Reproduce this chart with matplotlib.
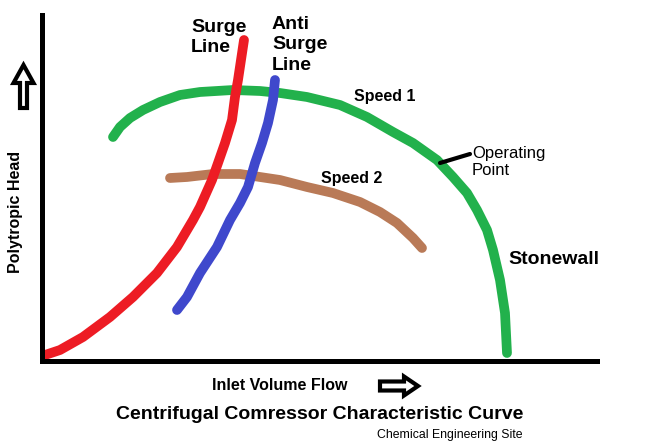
import matplotlib.pyplot as plt
from matplotlib.patches import FancyArrow

plt.rcParams['font.family'] = ['Liberation Sans', 'DejaVu Sans']

# curves, in pixel-like units measured from the axes origin
surge_x = [3, 18, 41, 68, 91, 115, 135, 151, 158, 170, 176, 183, 190, 193, 196, 199, 202]
surge_y = [6, 11, 24, 44, 64, 88, 114, 141, 154, 181, 198, 218, 241, 264, 281, 301, 321]

anti_x = [135, 145, 158, 175, 188, 198, 206, 213, 220, 226, 231, 233]
anti_y = [51, 64, 88, 114, 141, 158, 174, 198, 218, 238, 261, 281]

speed1_x = [71, 78, 88, 101, 118, 138, 158, 191, 218, 238, 265, 298,
            325, 351, 371, 395, 411, 425, 435, 445, 451, 458, 463, 465]
speed1_y = [224, 234, 243, 251, 259, 266, 269, 271, 270, 268, 264, 256,
            244, 229, 218, 201, 184, 168, 151, 131, 111, 81, 48, 8]

speed2_x = [128, 145, 171, 198, 218, 238, 265, 291, 318, 338, 355, 371, 380]
speed2_y = [183, 184, 187, 187, 184, 181, 174, 168, 159, 149, 138, 123, 113]

op_x = [398, 428]
op_y = [198, 207]

RED = '#ed1c24'
BLUE = '#3f48cc'
GREEN = '#22b14c'
BROWN = '#b97a57'

W, H = 665, 448
fig = plt.figure(figsize=(W / 100, H / 100), dpi=100)
ax = fig.add_axes([42 / W, (H - 361) / H, 555 / W, 346 / H])
ax.set_xlim(0, 555)
ax.set_ylim(0, 346)

for s in ['top', 'right']:
    ax.spines[s].set_visible(False)
for s in ['left', 'bottom']:
    ax.spines[s].set_linewidth(3.6)
ax.set_xticks([])
ax.set_yticks([])

kw = dict(lw=7, solid_capstyle='round', solid_joinstyle='round', clip_on=False)
ax.plot(speed2_x, speed2_y, color=BROWN, **kw)
ax.plot(speed1_x, speed1_y, color=GREEN, **kw)
ax.plot(surge_x, surge_y, color=RED, **kw)
ax.plot(anti_x, anti_y, color=BLUE, **kw)
ax.plot(op_x, op_y, color='black', lw=3, solid_capstyle='round')

t = dict(clip_on=False, fontweight='bold')
ax.text(149, 342, 'Surge\nLine', fontsize=14, ha='left', va='top', linespacing=1.25, **t)
ax.text(230, 345, 'Anti\nSurge\nLine', fontsize=14, ha='left', va='top', linespacing=1.25, **t)
ax.text(312, 264, 'Speed 1', fontsize=11.5, ha='left', va='center', **t)
ax.text(279, 182, 'Speed 2', fontsize=11.5, ha='left', va='center', **t)
ax.text(430, 215, 'Operating\nPoint', fontsize=12, ha='left', va='top', linespacing=1.15,
        clip_on=False)
ax.text(466, 101, 'Stonewall', fontsize=14, ha='left', va='center', **t)
ax.text(-26, 149, 'Polytropic Head', fontsize=11.5, rotation=90, ha='center', va='center', **t)
ax.text(170, -24, 'Inlet Volume Flow', fontsize=11.5, ha='left', va='center', **t)
ax.text(278, -53, 'Centrifugal Comressor Characteristic Curve', fontsize=14,
        ha='center', va='center', **t)
ax.text(408, -74, 'Chemical Engineering Site', fontsize=8.8, ha='center', va='center',
        clip_on=False)

up = FancyArrow(-18.5, 253, 0, 43, width=7, head_width=20, head_length=18,
                length_includes_head=True, facecolor='white', edgecolor='black',
                lw=3, clip_on=False)
right = FancyArrow(338, -25, 38, 0, width=9, head_width=19, head_length=14,
                   length_includes_head=True, facecolor='white', edgecolor='black',
                   lw=3, clip_on=False)
ax.add_patch(up)
ax.add_patch(right)

fig.savefig('out.png', dpi=100)
